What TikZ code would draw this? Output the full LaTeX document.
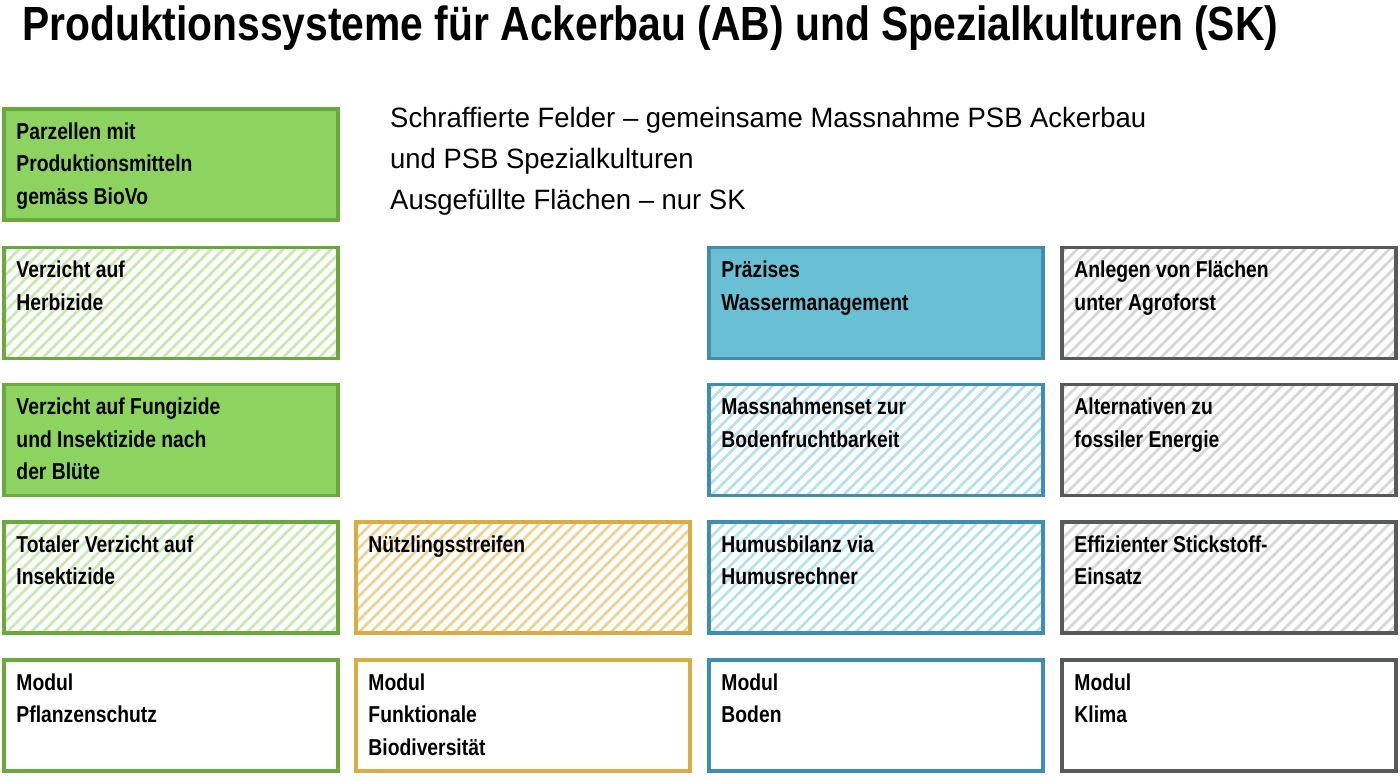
\documentclass[tikz,border=0pt]{standalone}
\usepackage{fontspec}
\setmainfont{Liberation Sans}
\newfontfamily\titlefont[FakeStretch=0.85]{Liberation Sans Bold}
\newfontfamily\boxfont[FakeStretch=0.84]{Liberation Sans Bold}
\newfontfamily\legfont[FakeStretch=0.98]{Liberation Sans}
\definecolor{gfill}{HTML}{8DD35F}
\definecolor{gline}{HTML}{6BA83E}
\definecolor{ghatch}{HTML}{C6EAAF}
\definecolor{yline}{HTML}{D8AD45}
\definecolor{yhatch}{HTML}{EBD38E}
\definecolor{bfill}{HTML}{69C0D4}
\definecolor{bline}{HTML}{3F8DB0}
\definecolor{bhatch}{HTML}{B3E1EC}
\definecolor{kline}{HTML}{58595B}
\definecolor{khatch}{HTML}{D6D6D6}
\tikzset{
  box/.style={draw=#1, line width=3.5pt, minimum width=334pt, minimum height=111pt, inner sep=0pt},
  hatch/.style={path picture={
      \foreach \i in {-130,-118,...,350}
        \draw[#1, line width=2.6pt] ([xshift=\i pt]path picture bounding box.south west) -- ++(140pt,140pt);}},
  txt/.style={anchor=north west, font=\boxfont\fontsize{23}{32.5}\selectfont, align=left, inner sep=0pt, text=black},
}
\begin{document}
\begin{tikzpicture}[x=1pt,y=-1pt]
\useasboundingbox (0,0) rectangle (1400,777);
\fill[white] (0,0) rectangle (1400,777);
\node[anchor=west, font=\titlefont\fontsize{48}{52}\selectfont, inner sep=0pt] (title) at (22,28) {Produktionssysteme für Ackerbau (AB) und Spezialkulturen (SK)};
\node[anchor=north west, font=\legfont\fontsize{28}{41}\selectfont, align=left, inner sep=0pt] (legend) at (390,107) {Schraffierte Felder – gemeinsame Massnahme PSB Ackerbau\\und PSB Spezialkulturen\\Ausgefüllte Flächen – nur SK};
% column 1
\node[box=gline, fill=gfill] (a0) at (171,164.5) {};
\node[box=gline, hatch=ghatch] (a1) at (171,303) {};
\node[box=gline, fill=gfill] (a2) at (171,440) {};
\node[box=gline, hatch=ghatch] (a3) at (171,577.5) {};
\node[box=gline, fill=white] (a4) at (171,715.5) {};
% column 2
\node[box=yline, hatch=yhatch] (b3) at (523,577.5) {};
\node[box=yline, fill=white] (b4) at (523,715.5) {};
% column 3
\node[box=bline, fill=bfill] (c1) at (876,303) {};
\node[box=bline, hatch=bhatch] (c2) at (876,440) {};
\node[box=bline, hatch=bhatch] (c3) at (876,577.5) {};
\node[box=bline, fill=white] (c4) at (876,715.5) {};
% column 4
\node[box=kline, hatch=khatch] (d1) at (1229,303) {};
\node[box=kline, hatch=khatch] (d2) at (1229,440) {};
\node[box=kline, hatch=khatch] (d3) at (1229,577.5) {};
\node[box=kline, fill=white] (d4) at (1229,715.5) {};
% texts
\node[txt] (ta0) at ([shift={(14,15)}]a0.north west) {Parzellen mit\\Produktionsmitteln\\gemäss BioVo};
\node[txt] (ta1) at ([shift={(14,15)}]a1.north west) {Verzicht auf\\Herbizide};
\node[txt] (ta2) at ([shift={(14,15)}]a2.north west) {Verzicht auf Fungizide\\und Insektizide nach\\der Blüte};
\node[txt] (ta3) at ([shift={(14,15)}]a3.north west) {Totaler Verzicht auf\\Insektizide};
\node[txt] (ta4) at ([shift={(14,15)}]a4.north west) {Modul\\Pflanzenschutz};
\node[txt] (tb3) at ([shift={(14,15)}]b3.north west) {Nützlingsstreifen};
\node[txt] (tb4) at ([shift={(14,15)}]b4.north west) {Modul\\Funktionale\\Biodiversität};
\node[txt] (tc1) at ([shift={(14,15)}]c1.north west) {Präzises\\Wassermanagement};
\node[txt] (tc2) at ([shift={(14,15)}]c2.north west) {Massnahmenset zur\\Bodenfruchtbarkeit};
\node[txt] (tc3) at ([shift={(14,15)}]c3.north west) {Humusbilanz via\\Humusrechner};
\node[txt] (tc4) at ([shift={(14,15)}]c4.north west) {Modul\\Boden};
\node[txt] (td1) at ([shift={(14,15)}]d1.north west) {Anlegen von Flächen\\unter Agroforst};
\node[txt] (td2) at ([shift={(14,15)}]d2.north west) {Alternativen zu\\fossiler Energie};
\node[txt] (td3) at ([shift={(14,15)}]d3.north west) {Effizienter Stickstoff-\\Einsatz};
\node[txt] (td4) at ([shift={(14,15)}]d4.north west) {Modul\\Klima};
\end{tikzpicture}
\end{document}
